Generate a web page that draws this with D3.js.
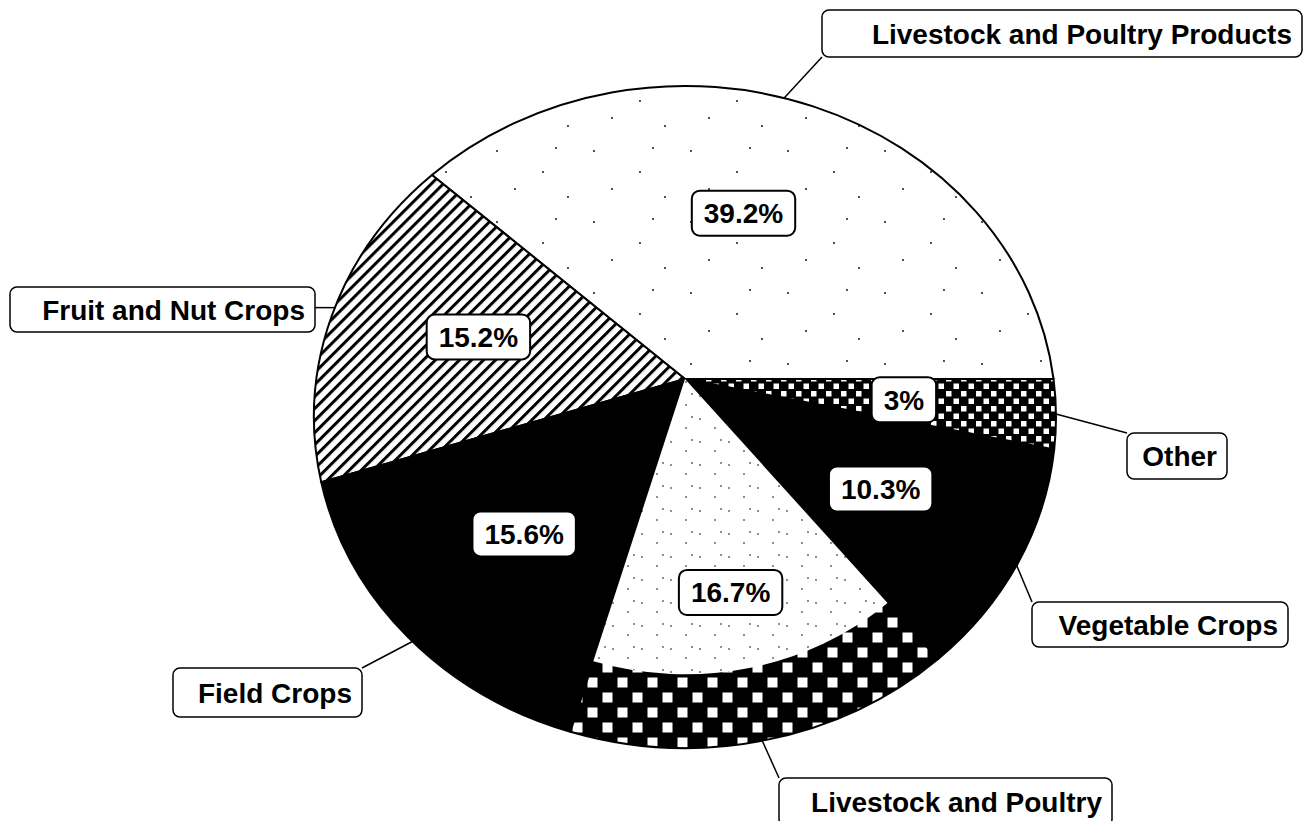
<!DOCTYPE html>
<html>
<head>
<meta charset="utf-8">
<script src="https://cdn.jsdelivr.net/npm/d3@7"></script>
<style>
  body { margin: 0; background: #fff; }
  text { font-family: "Liberation Sans", Arial, sans-serif; font-weight: bold; }
</style>
</head>
<body>
<svg id="chart"></svg>
<script>
// Data
const categories = [
  "Livestock and Poultry Products",
  "Fruit and Nut Crops",
  "Field Crops",
  "Livestock and Poultry",
  "Vegetable Crops",
  "Other"
];
const shares = [39.2, 15.2, 15.6, 16.7, 10.3, 3];

// Fill per slice, same order as categories
const sliceFills = ["url(#specks)", "url(#hatch)", "#000", "url(#checkBig)", "#000", "url(#checkSmall)"];

// Category label boxes (layout only)
const labelBoxes = [
  { x: 822, y: 10, w: 480, h: 47 },
  { x: 10, y: 287, w: 305, h: 45 },
  { x: 173, y: 668, w: 189, h: 49 },
  { x: 779, y: 778, w: 333, h: 48 },
  { x: 1032, y: 602, w: 256, h: 45 },
  { x: 1127, y: 433, w: 100, h: 46 }
];

// Size
const width = 1303,
      height = 821,
      fontSize = 28,
      apex = { x: 685, y: 379 },                       // where the slices meet
      ell = { cx: 685, cy: 417, rx: 371, ry: 331 },    // outline of the pie
      labelFrac = 0.59,                                // where % boxes sit along the slice
      innerFrac = 0.8;                                 // stipple / checker split

const svg = d3.select("#chart")
    .attr("width", width)
    .attr("height", height);

// Patterns
const defs = svg.append("defs");

function dots(id, w, h, pts, r) {
  const p = defs.append("pattern")
      .attr("id", id)
      .attr("patternUnits", "userSpaceOnUse")
      .attr("width", w).attr("height", h);
  p.append("rect").attr("width", w).attr("height", h).attr("fill", "#fff");
  p.selectAll("circle")
      .data(pts)
    .enter().append("circle")
      .attr("cx", d => d[0]).attr("cy", d => d[1]).attr("r", r)
      .attr("fill", "#000");
}
dots("specks", 97, 71, [[12, 9], [58, 30], [83, 55], [30, 47], [71, 6]], 0.9);
dots("stipple", 29, 23, [[4, 5], [19, 14], [25, 3]], 0.8);

const hatch = defs.append("pattern")
    .attr("id", "hatch")
    .attr("patternUnits", "userSpaceOnUse")
    .attr("width", 8.5).attr("height", 8.5)
    .attr("patternTransform", "rotate(45)");
hatch.append("rect").attr("width", 8.5).attr("height", 8.5).attr("fill", "#fff");
hatch.append("rect").attr("width", 3).attr("height", 8.5).attr("fill", "#000");

function checker(id, size, inset) {
  const p = defs.append("pattern")
      .attr("id", id)
      .attr("patternUnits", "userSpaceOnUse")
      .attr("width", size * 2).attr("height", size * 2);
  p.append("rect").attr("width", size * 2).attr("height", size * 2).attr("fill", "#000");
  p.selectAll(".sq")
      .data([0, size])
    .enter().append("rect")
      .attr("class", "sq")
      .attr("x", d => d + inset).attr("y", d => d + inset)
      .attr("width", size - 2 * inset).attr("height", size - 2 * inset)
      .attr("fill", "#fff");
}
checker("checkBig", 15, 2.5);
checker("checkSmall", 7.5, 1);

// Pie: counterclockwise from 3 o'clock
const pie = d3.pie()
    .sort(null)
    .startAngle(Math.PI / 2)
    .endAngle(Math.PI / 2 - 2 * Math.PI);

const arcs = pie(shares);

// Point where a ray from the apex meets the outline
function rayHit(a) {
  const dx = Math.sin(a), dy = -Math.cos(a),
        ox = apex.x - ell.cx, oy = apex.y - ell.cy,
        rx2 = ell.rx * ell.rx, ry2 = ell.ry * ell.ry,
        A = dx * dx / rx2 + dy * dy / ry2,
        B = 2 * (ox * dx / rx2 + oy * dy / ry2),
        C = ox * ox / rx2 + oy * oy / ry2 - 1,
        t = (-B + Math.sqrt(B * B - 4 * A * C)) / (2 * A);
  return [apex.x + t * dx, apex.y + t * dy];
}

function toward(p, s) {
  return [apex.x + s * (p[0] - apex.x), apex.y + s * (p[1] - apex.y)];
}

function phi(p) {
  return Math.atan2(-(p[1] - ell.cy) / ell.ry, (p[0] - ell.cx) / ell.rx);
}

function wedge(d, s) {
  const q0 = rayHit(d.startAngle), q1 = rayHit(d.endAngle);
  let delta = phi(q1) - phi(q0);
  while (delta <= 0) delta += 2 * Math.PI;
  const p0 = toward(q0, s), p1 = toward(q1, s),
        large = delta > Math.PI ? 1 : 0;
  return "M" + apex.x + "," + apex.y +
         "L" + p0[0] + "," + p0[1] +
         "A" + ell.rx * s + "," + ell.ry * s + " 0 " + large + " 0 " + p1[0] + "," + p1[1] + "Z";
}

function midAngle(d) { return (d.startAngle + d.endAngle) / 2; }

// Slices
const chart = svg.append("g").attr("class", "chart");

chart.selectAll(".slice")
    .data(arcs)
  .enter().append("path")
    .attr("class", "slice")
    .attr("d", d => wedge(d, 1))
    .attr("fill", (d, i) => sliceFills[i])
    .attr("stroke", "#000")
    .attr("stroke-width", 2)
    .attr("stroke-linejoin", "round");

// Inner stipple of the livestock and poultry slice
chart.selectAll(".inner")
    .data(arcs.filter((d, i) => i === 3))
  .enter().append("path")
    .attr("class", "inner")
    .attr("d", d => wedge(d, innerFrac))
    .attr("fill", "url(#stipple)");

// Percent boxes
const pct = chart.selectAll(".pct")
    .data(arcs)
  .enter().append("g")
    .attr("class", "pct")
    .attr("transform", d => {
      const p = toward(rayHit(midAngle(d)), labelFrac);
      return "translate(" + p[0] + "," + p[1] + ")";
    });

pct.append("text")
    .attr("text-anchor", "middle")
    .attr("y", 10)
    .attr("font-size", fontSize)
    .text((d, i) => shares[i] + "%");

pct.each(function() {
  const g = d3.select(this),
        w = g.select("text").node().getComputedTextLength() + 24,
        h = 45;
  g.insert("rect", "text")
      .attr("x", -w / 2).attr("y", -h / 2)
      .attr("width", w).attr("height", h)
      .attr("rx", 8)
      .attr("fill", "#fff")
      .attr("stroke", "#000")
      .attr("stroke-width", 2);
});

// Category labels with leader lines
const labels = svg.append("g").attr("class", "labels");

labels.selectAll(".leader")
    .data(arcs)
  .enter().append("line")
    .attr("class", "leader")
    .each(function(d, i) {
      const p = rayHit(midAngle(d)),
            b = labelBoxes[i],
            ex = Math.max(b.x, Math.min(b.x + b.w, p[0])),
            ey = Math.max(b.y, Math.min(b.y + b.h, p[1]));
      d3.select(this)
          .attr("x1", p[0]).attr("y1", p[1])
          .attr("x2", ex).attr("y2", ey);
    })
    .attr("stroke", "#000")
    .attr("stroke-width", 1.5);

const tag = labels.selectAll(".tag")
    .data(categories)
  .enter().append("g")
    .attr("class", "tag");

tag.append("rect")
    .attr("x", (d, i) => labelBoxes[i].x)
    .attr("y", (d, i) => labelBoxes[i].y)
    .attr("width", (d, i) => labelBoxes[i].w)
    .attr("height", (d, i) => labelBoxes[i].h)
    .attr("rx", 7)
    .attr("fill", "#fff")
    .attr("stroke", "#000")
    .attr("stroke-width", 1.5);

tag.append("text")
    .attr("x", (d, i) => labelBoxes[i].x + labelBoxes[i].w - 10)
    .attr("y", (d, i) => labelBoxes[i].y + labelBoxes[i].h / 2 + 10)
    .attr("text-anchor", "end")
    .attr("font-size", fontSize)
    .text(d => d);
</script>
</body>
</html>
